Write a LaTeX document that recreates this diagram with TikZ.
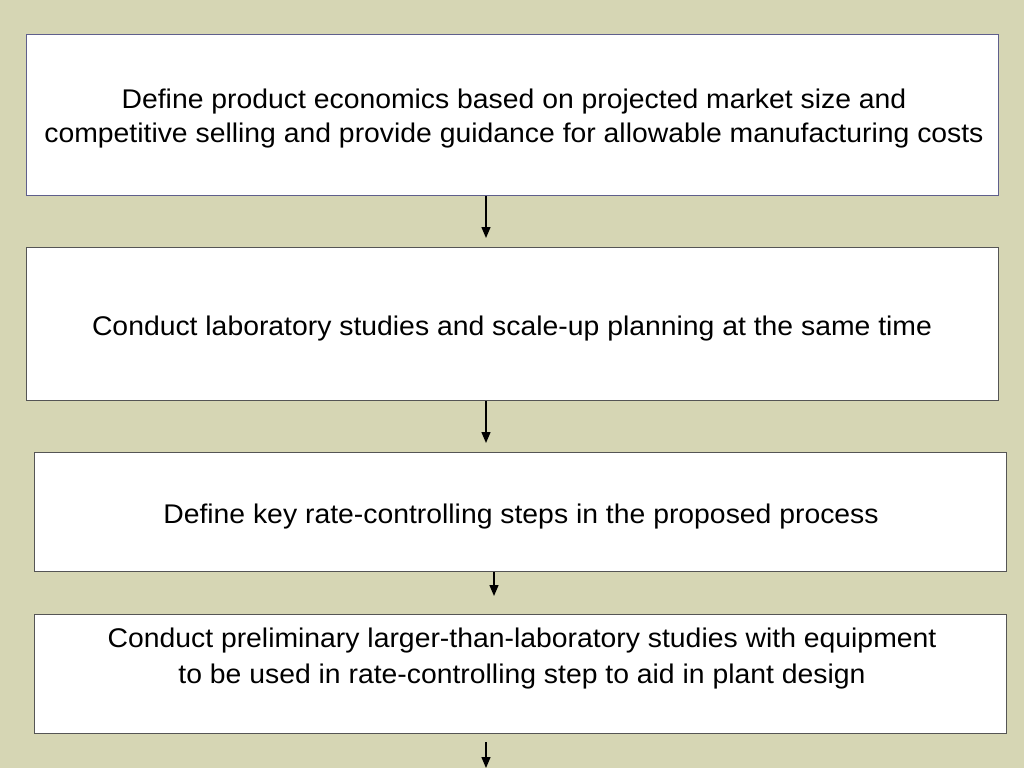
\documentclass[tikz,border=0pt]{standalone}
\usepackage{fontspec}
\setmainfont{Liberation Sans}[FakeStretch=1.05]
\usetikzlibrary{arrows.meta}
\definecolor{bgc}{RGB}{214,214,180}
\definecolor{bord}{RGB}{85,85,85}
\definecolor{bordb}{RGB}{95,95,140}
\begin{document}
\begin{tikzpicture}[x=1pt,y=-1pt,
  box/.style={draw=bord,line width=1pt,fill=white,inner sep=0pt,anchor=north west},
  txt/.style={font=\fontsize{27}{34}\selectfont,align=center,inner sep=0pt,anchor=base},
  arr/.style={line width=1.4pt,-{Triangle[width=9pt,length=11pt]}}]
\fill[bgc] (0,0) rectangle (1024,768);
\useasboundingbox (0,0) rectangle (1024,768);
\node[box,draw=bordb,minimum width=972pt,minimum height=161pt] (b1) at (26,34) {};
\node[box,minimum width=972pt,minimum height=153pt] (b2) at (26,247) {};
\node[box,minimum width=972pt,minimum height=119pt] (b3) at (34,452) {};
\node[box,minimum width=972pt,minimum height=119pt] (b4) at (34,614) {};
\node[txt] (t1) at (514,142) {Define product economics based on projected market size and\\competitive selling and provide guidance for allowable manufacturing costs};
\node[txt] (t2) at (512,335.5) {Conduct laboratory studies and scale-up planning at the same time};
\node[txt] (t3) at (521,523.5) {Define key rate-controlling steps in the proposed process};
\node[txt,font=\fontsize{27}{36}\selectfont] (t4) at (522,683) {Conduct preliminary larger-than-laboratory studies with equipment\\to be used in rate-controlling step to aid in plant design};
\coordinate (e4) at (486,768);
\draw[arr,shorten >=9pt] (b1.south -| 486,0) -- (b2.north -| 486,0);
\draw[arr,shorten >=9pt] (b2.south -| 486,0) -- (b3.north -| 486,0);
\draw[arr,shorten >=18pt] (b3.south -| 494,0) -- (b4.north -| 494,0);
\draw[arr,shorten <=8pt] (b4.south -| 486,0) -- (e4);
\end{tikzpicture}
\end{document}
